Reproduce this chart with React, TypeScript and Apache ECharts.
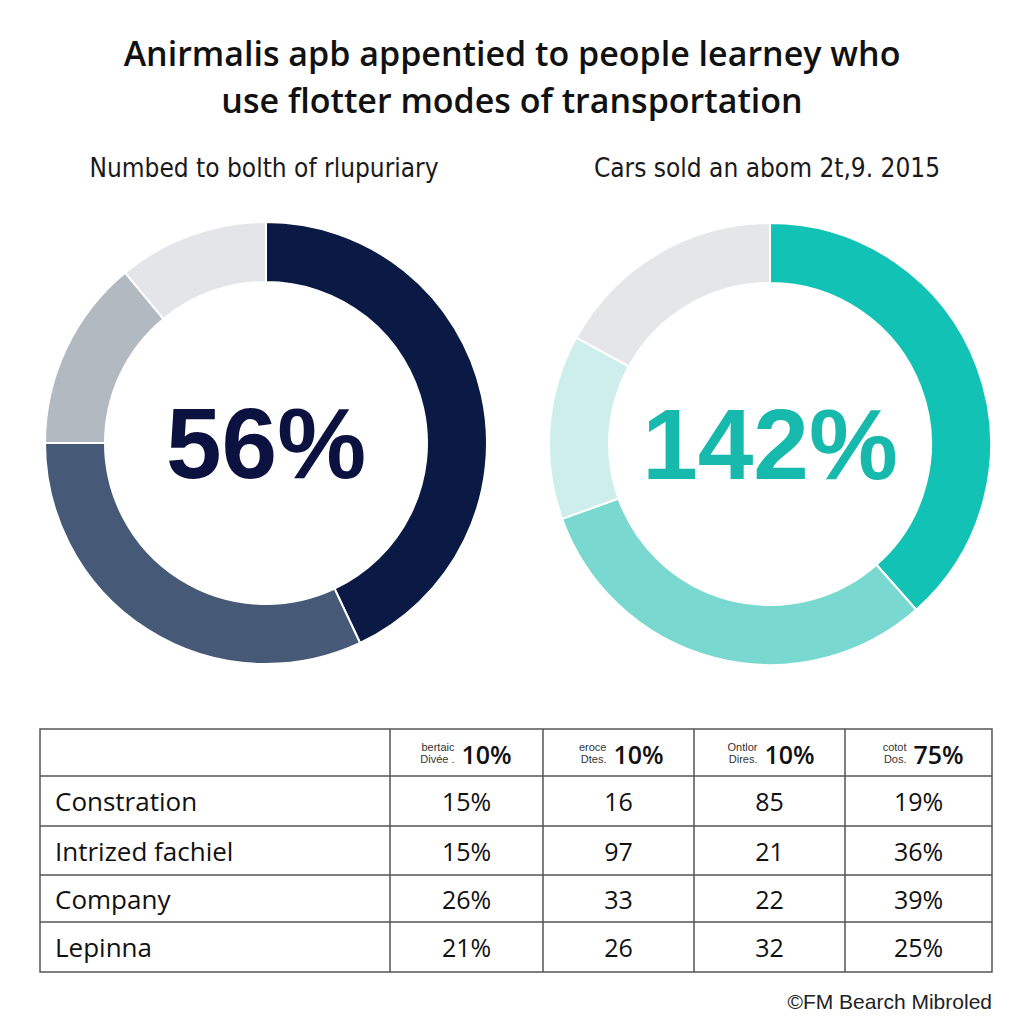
import React, { useEffect, useRef } from "react";
import * as echarts from "echarts";

const titleLines = [
  "Anirmalis apb appentied to people learney who",
  "use flotter modes of transportation",
];
const leftSubtitle = "Numbed to bolth of rlupuriary";
const rightSubtitle = "Cars sold an abom 2t,9. 2015";
const leftCenterLabel = "56%";
const rightCenterLabel = "142%";

const leftValues = [43, 32, 14, 11];
const leftColors = ["#0b1a45", "#465a78", "#b2b9c1", "#e4e5e8"];
const rightValues = [38.5, 31, 13.5, 17];
const rightColors = ["#12c3b5", "#79d9d0", "#cdeeea", "#e5e6e8"];

const headerSmallTop = ["bertaic", "eroce", "Ontlor", "cotot"];
const headerSmallBottom = ["Divée .", "Dtes.", "Dires.", "Dos."];
const headerValues = ["10%", "10%", "10%", "75%"];

const rowLabels = ["Constration", "Intrized fachiel", "Company", "Lepinna"];
const col1 = ["15%", "15%", "26%", "21%"];
const col2 = ["16", "97", "33", "26"];
const col3 = ["85", "21", "22", "32"];
const col4 = ["19%", "36%", "39%", "25%"];

const footer = "©FM Bearch Mibroled";

export default function App() {
  const ref = useRef<HTMLDivElement>(null);
  useEffect(() => {
    if (!ref.current) return;
    const chart = echarts.init(ref.current, null, { renderer: "svg" });

    const colX = [40, 390, 543, 694, 845, 992];
    const rowY = [729, 776, 826, 875, 922, 972];
    const lineColor = "#555";
    const graphics: any[] = [];

    graphics.push({
      type: "text",
      x: 512,
      y: 76,
      style: {
        text: titleLines.join("\n"),
        fill: "#111",
        font: "600 34px 'Open Sans', 'Noto Sans', sans-serif",
        lineHeight: 47,
        align: "center",
        verticalAlign: "middle",
      },
    });
    [
      [leftSubtitle, 264],
      [rightSubtitle, 767],
    ].forEach(([t, x]) => {
      graphics.push({
        type: "text",
        x: x as number,
        y: 168,
        style: {
          text: t as string,
          fill: "#1a1a1a",
          font: "26px 'DejaVu Sans Condensed', 'Liberation Sans Narrow', sans-serif",
          align: "center",
          verticalAlign: "middle",
        },
      });
    });

    // table lines
    graphics.push({
      type: "rect",
      shape: { x: colX[0], y: rowY[0], width: colX[5] - colX[0], height: rowY[5] - rowY[0] },
      style: { fill: "none", stroke: lineColor, lineWidth: 1.5 },
    });
    for (let i = 1; i < rowY.length - 1; i++) {
      graphics.push({
        type: "line",
        shape: { x1: colX[0], y1: rowY[i], x2: colX[5], y2: rowY[i] },
        style: { stroke: lineColor, lineWidth: 1.5 },
      });
    }
    for (let j = 1; j < colX.length - 1; j++) {
      graphics.push({
        type: "line",
        shape: { x1: colX[j], y1: rowY[0], x2: colX[j], y2: rowY[5] },
        style: { stroke: lineColor, lineWidth: 1.5 },
      });
    }
    // header
    headerValues.forEach((v, j) => {
      const c = (colX[j + 1] + colX[j + 2]) / 2;
      const hy = (rowY[0] + rowY[1]) / 2;
      graphics.push({
        type: "text",
        x: c - 12,
        y: hy,
        style: {
          text: headerSmallTop[j] + "\n" + headerSmallBottom[j],
          fill: "#333",
          font: "11px 'Liberation Sans', sans-serif",
          lineHeight: 12,
          align: "right",
          verticalAlign: "middle",
        },
      });
      graphics.push({
        type: "text",
        x: c - 5,
        y: hy + 1,
        style: {
          text: v,
          fill: "#111",
          font: "600 25px 'Open Sans', sans-serif",
          align: "left",
          verticalAlign: "middle",
        },
      });
    });
    const cols = [col1, col2, col3, col4];
    rowLabels.forEach((lab, i) => {
      const cy = (rowY[i + 1] + rowY[i + 2]) / 2;
      graphics.push({
        type: "text",
        x: 55,
        y: cy,
        style: {
          text: lab,
          fill: "#111",
          font: "26px 'Open Sans', sans-serif",
          align: "left",
          verticalAlign: "middle",
        },
      });
      cols.forEach((col, j) => {
        const c = (colX[j + 1] + colX[j + 2]) / 2;
        graphics.push({
          type: "text",
          x: c,
          y: cy,
          style: {
            text: col[i],
            fill: "#111",
            font: "25px 'Open Sans', sans-serif",
            align: "center",
            verticalAlign: "middle",
          },
        });
      });
    });
    graphics.push({
      type: "text",
      x: 992,
      y: 1001,
      style: {
        text: footer,
        fill: "#222",
        font: "21px 'Liberation Sans', sans-serif",
        align: "right",
        verticalAlign: "middle",
      },
    });

    const pie = (
      values: number[],
      colors: string[],
      center: [number, number],
      label: string,
      labelColor: string
    ) => ({
      type: "pie",
      center,
      radius: [161, 221],
      startAngle: 90,
      clockwise: true,
      silent: true,
      avoidLabelOverlap: false,
      itemStyle: { borderColor: "#fff", borderWidth: 2 },
      label: {
        show: true,
        position: "center",
        formatter: () => label,
        color: labelColor,
        fontSize: 100,
        fontWeight: "bold",
        fontFamily: "'Liberation Sans', Arial, sans-serif",
      },
      labelLine: { show: false },
      emphasis: { disabled: true },
      data: values.map((v, i) => ({
        value: v,
        itemStyle: { color: colors[i] },
        label: { show: i === 0 },
      })),
    });

    chart.setOption({
      animation: false,
      backgroundColor: "#fff",
      series: [
        pie(leftValues, leftColors, [266, 443], leftCenterLabel, "#0b1240"),
        pie(rightValues, rightColors, [770, 444], rightCenterLabel, "#16b9ac"),
      ],
      graphic: graphics,
    });
    return () => chart.dispose();
  }, []);
  return (
    <div
      ref={ref}
      style={{ position: "fixed", left: 0, top: 0, width: 1024, height: 1024 }}
    />
  );
}
